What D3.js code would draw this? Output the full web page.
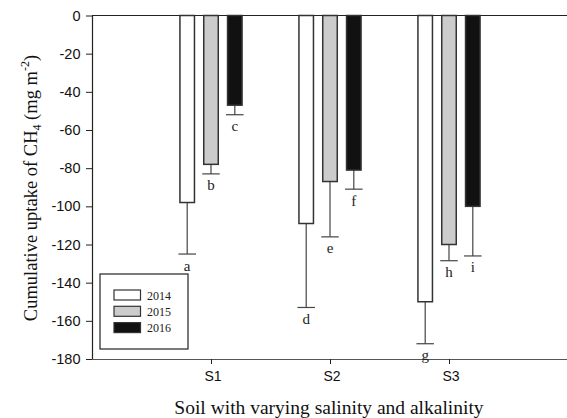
<!DOCTYPE html>
<html>
<head>
<meta charset="utf-8">
<script src="https://cdn.jsdelivr.net/npm/d3@7"></script>
<style>
  body { margin: 0; background: #fff; }
  svg { display: block; }
</style>
</head>
<body>
<svg width="567" height="418"></svg>
<script>
// data
var soils = ["S1", "S2", "S3"];
var years = ["2014", "2015", "2016"];
var uptake2014 = [-98, -109, -150];
var uptake2015 = [-78, -87, -120];
var uptake2016 = [-47, -81, -100];
var err2014 = [27, 44, 22];
var err2015 = [5, 29, 8.5];
var err2016 = [5, 10, 26];
var letters2014 = ["a", "d", "g"];
var letters2015 = ["b", "e", "h"];
var letters2016 = ["c", "f", "i"];
var yTicks = [0, -20, -40, -60, -80, -100, -120, -140, -160, -180];
var fills = ["#ffffff", "#cccccc", "#111111"];

var svg = d3.select("svg"),
  plotL = 92, plotR = 568, plotT = 15.5, plotB = 359;

var x = d3.scaleLinear().domain([0, 4]).range([plotL, plotR]);
var y = d3.scaleLinear().domain([0, -180]).range([plotT, plotB]);
var offset = d3.scaleBand().domain(years).range([-0.3, 0.3]).paddingInner(0);
var barW = x(0.122) - x(0);

var data = [];
soils.forEach(function (s, i) {
  [uptake2014, uptake2015, uptake2016].forEach(function (arr, j) {
    var errs = [err2014, err2015, err2016][j];
    var lets = [letters2014, letters2015, letters2016][j];
    data.push({ soil: s, pos: i + 1, year: years[j], k: j, v: arr[i], e: errs[i], letter: lets[i] });
  });
});
function cx(d) { return x(d.pos + offset(d.year) + offset.bandwidth() / 2); }

// zero line and bottom axis
svg.append("line").attr("x1", plotL).attr("x2", plotR).attr("y1", y(0)).attr("y2", y(0))
  .attr("stroke", "#222").attr("stroke-width", 1.2);

var ax = svg.append("g").attr("transform", "translate(0," + y(-180) + ")")
  .call(d3.axisBottom(x).tickValues([1, 2, 3]).tickFormat(function (d) { return soils[d - 1]; })
    .tickSize(5).tickSizeOuter(0).tickPadding(7));
ax.select(".domain").attr("stroke", "#555").attr("stroke-width", 1.2);
ax.selectAll(".tick line").attr("stroke", "#222");
ax.selectAll("text").attr("font-family", "Liberation Sans, Arial, sans-serif").attr("font-size", 14)
  .attr("fill", "#111").attr("dx", 1.5);

var ay = svg.append("g").attr("transform", "translate(" + plotL + ",0)")
  .call(d3.axisLeft(y).tickValues(yTicks).tickSize(6).tickSizeOuter(0).tickPadding(5.5)
    .tickFormat(function (d) { return d === 0 ? "0" : String(d).replace("\u2212", "-"); }));
ay.select(".domain").attr("stroke", "#222").attr("stroke-width", 1.2);
ay.selectAll(".tick line").attr("stroke", "#222");
ay.selectAll("text").attr("font-family", "Liberation Sans, Arial, sans-serif").attr("font-size", 14.5)
  .attr("fill", "#111");

// error bars (downward only)
var eb = svg.append("g").selectAll("g").data(data).enter().append("g")
  .attr("stroke", "#444").attr("stroke-width", 1.2);
eb.append("line")
  .attr("x1", cx).attr("x2", cx)
  .attr("y1", function (d) { return y(d.v); })
  .attr("y2", function (d) { return y(d.v - d.e); });
eb.append("line")
  .attr("x1", function (d) { return cx(d) - barW / 2 - 1.5; })
  .attr("x2", function (d) { return cx(d) + barW / 2 + 1.5; })
  .attr("y1", function (d) { return y(d.v - d.e); })
  .attr("y2", function (d) { return y(d.v - d.e); });

// bars
svg.append("g").selectAll("rect").data(data).enter().append("rect")
  .attr("x", function (d) { return cx(d) - barW / 2; })
  .attr("y", y(0))
  .attr("width", barW)
  .attr("height", function (d) { return y(d.v) - y(0); })
  .attr("fill", function (d) { return fills[d.k]; })
  .attr("stroke", "#333").attr("stroke-width", 1.5);

// significance letters
svg.append("g").selectAll("text").data(data).enter().append("text")
  .attr("x", cx)
  .attr("y", function (d) { return y(d.v - d.e) + 16.5; })
  .attr("text-anchor", "middle")
  .attr("font-family", "Liberation Serif, Times New Roman, serif")
  .attr("font-size", 15).attr("fill", "#222")
  .text(function (d) { return d.letter; });

// legend
var lg = svg.append("g");
lg.append("rect").attr("x", 100).attr("y", 274).attr("width", 88).attr("height", 75)
  .attr("fill", "#fff").attr("stroke", "#222").attr("stroke-width", 1.2);
var li = lg.selectAll("g").data(years).enter().append("g")
  .attr("transform", function (d, i) { return "translate(114," + (290 + i * 16.3) + ")"; });
li.append("rect").attr("width", 26.5).attr("height", 10)
  .attr("fill", function (d, i) { return fills[i]; })
  .attr("stroke", "#333").attr("stroke-width", 1.2);
li.append("text").attr("x", 33).attr("y", 9.5)
  .attr("font-family", "Liberation Serif, Times New Roman, serif")
  .attr("font-size", 12).attr("fill", "#222")
  .text(function (d) { return d; });

// axis titles
svg.append("text").attr("x", 329).attr("y", 414).attr("text-anchor", "middle")
  .attr("font-family", "Liberation Serif, Times New Roman, serif").attr("font-size", 19.5).attr("fill", "#111")
  .text("Soil with varying salinity and alkalinity");

var yt = svg.append("text").attr("transform", "translate(36.5,188) rotate(-90)").attr("text-anchor", "middle")
  .attr("font-family", "Liberation Serif, Times New Roman, serif").attr("font-size", 18.5).attr("fill", "#111");
yt.append("tspan").text("Cumulative uptake of CH");
yt.append("tspan").attr("font-size", 12).attr("dy", 4).text("4");
yt.append("tspan").attr("dy", -4).text(" (mg m");
yt.append("tspan").attr("font-size", 12).attr("dy", -8).text("-2");
yt.append("tspan").attr("dy", 8).text(")");
</script>
</body>
</html>
